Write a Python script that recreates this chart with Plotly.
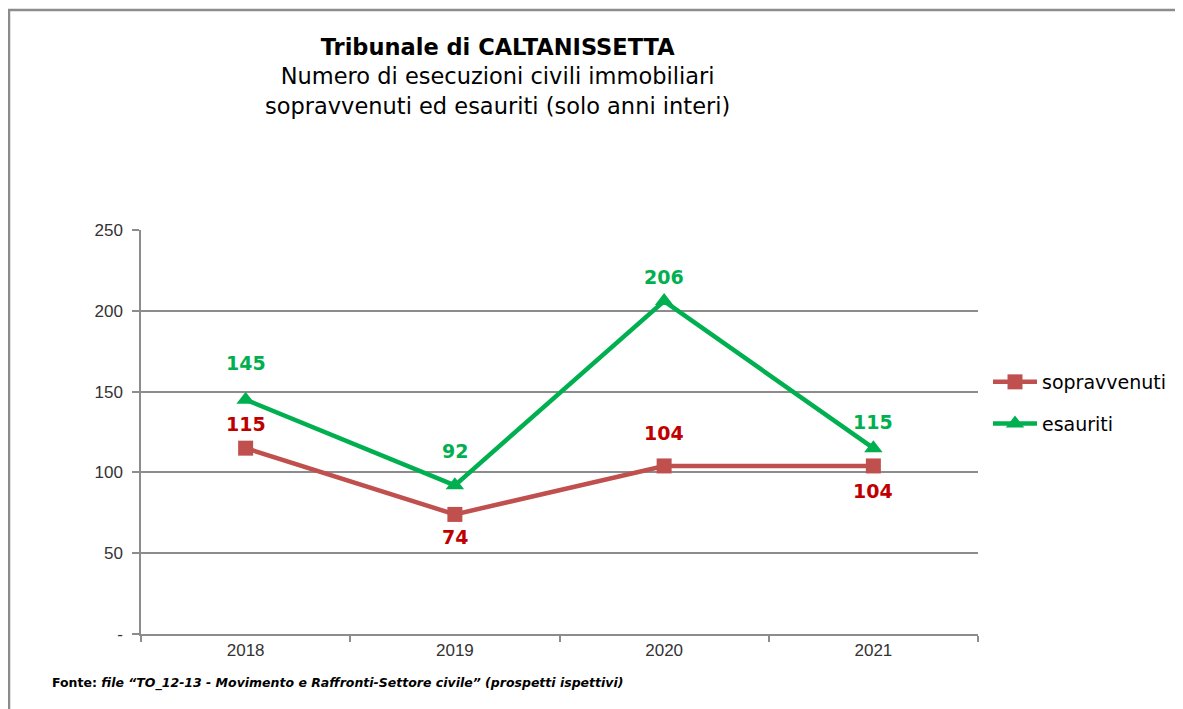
import plotly.graph_objects as go

years = ["2018", "2019", "2020", "2021"]
sopravvenuti = [115, 74, 104, 104]
esauriti = [145, 92, 206, 115]
y_ticks = [0, 50, 100, 150, 200, 250]
y_labels = ["-", "50", "100", "150", "200", "250"]

# label offsets in px (style only)
sopr_shift = [24, -23, 33, -25]
esau_shift = [37, 34, 24, 26]

W, H = 1183, 709
OFF = 8  # page body margin
L, R, T, B = 141 - OFF, 978 - OFF, 230 - OFF, 634 - OFF


def px_x(p):
    return (p - OFF - L) / (R - L)


def px_y(p):
    return (B - (p - OFF)) / (B - T)


RED = "#C0504D"
RED_TXT = "#C00000"
GREEN = "#00B050"
GRID = "#8c8c8c"
FONT = "Tahoma, 'DejaVu Sans', sans-serif"
TICK_FONT = dict(family="Arial, 'Liberation Sans', sans-serif", size=17, color="#333333")

fig = go.Figure()

fig.add_trace(go.Scatter(
    x=years, y=sopravvenuti, mode="lines+markers", name="sopravvenuti",
    line=dict(color=RED, width=4.5),
    marker=dict(symbol="square", size=15, color=RED),
    legendgroup="a",
))
fig.add_trace(go.Scatter(
    x=years, y=esauriti, mode="lines+markers", name="esauriti",
    line=dict(color=GREEN, width=4.5),
    marker=dict(symbol="triangle-up", size=16, color=GREEN),
    legendgroup="b",
))

annotations = []
for i, (v, s) in enumerate(zip(sopravvenuti, sopr_shift)):
    annotations.append(dict(x=i, y=v, text=f"<b>{v}</b>", showarrow=False, yshift=s,
                            font=dict(family=FONT, size=19, color=RED_TXT)))
for i, (v, s) in enumerate(zip(esauriti, esau_shift)):
    annotations.append(dict(x=i, y=v, text=f"<b>{v}</b>", showarrow=False, yshift=s,
                            font=dict(family=FONT, size=19, color=GREEN)))

annotations.append(dict(
    xref="paper", yref="paper", x=px_x(497), y=px_y(76), showarrow=False,
    xanchor="center", yanchor="middle",
    text="<b>Tribunale di CALTANISSETTA</b><br>Numero di esecuzioni civili immobiliari"
         "<br>sopravvenuti ed esauriti (solo anni interi)",
    font=dict(family=FONT, size=22.5, color="#000000"),
))
annotations.append(dict(
    xref="paper", yref="paper", x=px_x(50), y=px_y(683), showarrow=False,
    xanchor="left", yanchor="middle",
    text="<b>Fonte: <i>file \u201cTO_12-13 - Movimento e Raffronti-Settore civile\u201d (prospetti ispettivi)</i></b>",
    font=dict(family=FONT, size=12.5, color="#000000"),
))

shapes = [
    dict(type="line", xref="paper", yref="paper", x0=px_x(8), x1=px_x(W + 20),
         y0=px_y(10), y1=px_y(10), line=dict(color=GRID, width=2.5)),
    dict(type="line", xref="paper", yref="paper", x0=px_x(9), x1=px_x(9),
         y0=px_y(10), y1=px_y(H + 20), line=dict(color=GRID, width=2.5)),
]

fig.update_layout(
    width=W, height=H,
    margin=dict(l=L, r=W - R, t=T, b=H - B),
    paper_bgcolor="white", plot_bgcolor="white",
    showlegend=True,
    legend=dict(x=px_x(988), y=px_y(363), xanchor="left", yanchor="top",
                font=dict(family=FONT, size=19, color="#000000"),
                tracegroupgap=14, itemwidth=44, bgcolor="rgba(0,0,0,0)"),
    annotations=annotations,
    shapes=shapes,
    xaxis=dict(
        type="category", range=[-0.5, 3.5], tickson="boundaries",
        ticks="outside", ticklen=6, tickcolor=GRID, tickwidth=1.5,
        showline=True, linecolor=GRID, linewidth=1.5, showgrid=False,
        tickfont=TICK_FONT, fixedrange=True,
    ),
    yaxis=dict(
        range=[0, 250], tickvals=y_ticks, ticktext=y_labels,
        ticks="outside", ticklen=7, tickcolor=GRID, tickwidth=1.5,
        showline=True, linecolor=GRID, linewidth=1.5,
        showgrid=True, gridcolor=GRID, gridwidth=1.5, zeroline=False,
        ticklabelstandoff=6, tickfont=TICK_FONT, fixedrange=True,
    ),
)

fig.write_html("out.html")
